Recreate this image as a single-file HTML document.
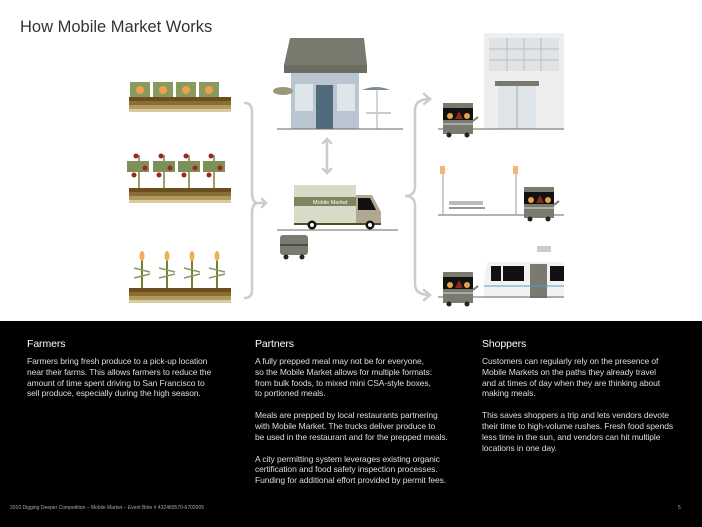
<!DOCTYPE html>
<html><head><meta charset="utf-8"><style>
body{margin:0;width:702px;height:527px;overflow:hidden;background:#fff;font-family:"Liberation Sans",sans-serif;position:relative}
.t{position:absolute;left:20px;top:18px;font-size:16.5px;color:#333}
.blk{position:absolute;left:0;top:321px;width:702px;height:206px;background:#000;color:#fff}
.col{position:absolute;top:17px;font-size:8.5px;line-height:10.8px;color:#ddd;white-space:nowrap;letter-spacing:-0.1px}
.col h3{margin:0 0 6px;font-weight:normal;font-size:10.5px;line-height:12px;color:#fff}
.col p{margin:0 0 11px}
.foot{position:absolute;top:184px;left:10px;font-size:5px;color:#aaa}
.pn{position:absolute;top:184px;left:678px;font-size:5px;color:#aaa}
svg{position:absolute;left:0;top:0}
</style></head><body>
<div class="t">How Mobile Market Works</div>
<svg width="702" height="321" viewBox="0 0 702 321">
<defs>
<g id="soil"><rect x="0" y="0" width="102" height="4" fill="#6b4e1e"/><rect x="0" y="4" width="102" height="4" fill="#8a6d35"/><rect x="0" y="8" width="102" height="4" fill="#b29a5e"/><rect x="0" y="12" width="102" height="3" fill="#d8cba0"/></g>
<g id="cart"><rect x="0" y="0" width="30" height="5" fill="#7a7a6e"/><rect x="0" y="5" width="30" height="12" fill="#111"/><circle cx="7" cy="13" r="3" fill="#e9a24a"/><polygon points="12,16 16,8 20,16" fill="#8a2a1a"/><circle cx="24" cy="13" r="3" fill="#e9a24a"/><rect x="0" y="17" width="30" height="14" fill="#7a7a6e"/><rect x="0" y="20" width="30" height="2" fill="#aaa"/><circle cx="6" cy="32" r="2.5" fill="#222"/><circle cx="24" cy="32" r="2.5" fill="#222"/><line x1="30" y1="18" x2="35" y2="14" stroke="#7a7a6e" stroke-width="2"/></g>
</defs>
<g transform="translate(129,97)"><use href="#soil"/></g>
<g fill="#8a9a5e"><rect x="130" y="82" width="20" height="15"/><rect x="153" y="82" width="20" height="15"/><rect x="176" y="82" width="20" height="15"/><rect x="199" y="82" width="20" height="15"/></g>
<g fill="#f0a04a"><circle cx="140" cy="90" r="4"/><circle cx="163" cy="90" r="4"/><circle cx="186" cy="90" r="4"/><circle cx="209" cy="90" r="4"/></g>
<g transform="translate(129,188)"><use href="#soil"/></g>
<g stroke="#7a7e3a" stroke-width="1.5"><line x1="139" y1="155" x2="139" y2="188"/><line x1="164" y1="155" x2="164" y2="188"/><line x1="189" y1="155" x2="189" y2="188"/><line x1="214" y1="155" x2="214" y2="188"/></g>
<g fill="#7f8f5a"><rect x="127" y="161" width="22" height="11"/><rect x="153" y="161" width="22" height="11"/><rect x="178" y="161" width="22" height="11"/><rect x="203" y="161" width="22" height="11"/></g>
<g fill="#9a2a1a"><circle cx="136" cy="156" r="2.5"/><circle cx="145" cy="168" r="2.5"/><circle cx="161" cy="156" r="2.5"/><circle cx="170" cy="168" r="2.5"/><circle cx="186" cy="156" r="2.5"/><circle cx="195" cy="168" r="2.5"/><circle cx="211" cy="156" r="2.5"/><circle cx="220" cy="168" r="2.5"/><circle cx="134" cy="175" r="2.5"/><circle cx="159" cy="175" r="2.5"/><circle cx="184" cy="175" r="2.5"/><circle cx="209" cy="175" r="2.5"/></g>
<g transform="translate(129,288)"><use href="#soil"/></g>
<g stroke="#7a7e3a" stroke-width="2"><line x1="142" y1="260" x2="142" y2="288"/><line x1="167" y1="260" x2="167" y2="288"/><line x1="192" y1="260" x2="192" y2="288"/><line x1="217" y1="260" x2="217" y2="288"/></g>
<g stroke="#8a9a5e" stroke-width="1.5"><path d="M134 268 L150 272 M134 278 L150 274 M159 268 L175 272 M159 278 L175 274 M184 268 L200 272 M184 278 L200 274 M209 268 L225 272 M209 278 L225 274"/></g>
<g fill="#f0b050"><ellipse cx="142" cy="256" rx="2.5" ry="5"/><ellipse cx="167" cy="256" rx="2.5" ry="5"/><ellipse cx="192" cy="256" rx="2.5" ry="5"/><ellipse cx="217" cy="256" rx="2.5" ry="5"/></g>
<g fill="none" stroke="#ccc" stroke-width="2.5" stroke-linecap="round">
<path d="M245 103 Q252 103 252 112 L252 192 Q252 203 258 203 Q252 203 252 214 L252 290 Q252 298 245 298"/>
<path d="M258 203 L266 203 M262 199 L266 203 L262 207"/>
<path d="M430 99 Q415 99 415 110 L415 186 Q415 196 405 196 Q415 196 415 206 L415 284 Q415 295 430 295"/>
<path d="M424 94 L430 99 L424 104 M424 290 L430 295 L424 300"/>
<path d="M327 139 L327 173 M323 143 L327 139 L331 143 M323 169 L327 173 L331 169"/>
</g>
<polygon points="290,38 364,38 367,65 284,65" fill="#777a6c"/><rect x="284" y="65" width="83" height="8" fill="#6a6d60"/>
<rect x="291" y="73" width="68" height="56" fill="#b9c5d0"/><rect x="316" y="85" width="17" height="44" fill="#4f6a7a"/>
<rect x="295" y="84" width="18" height="27" fill="#dde4ea"/><rect x="337" y="84" width="18" height="27" fill="#dde4ea"/>
<ellipse cx="283" cy="91" rx="10" ry="4" fill="#9a9878"/>
<path d="M362 90 Q376 84 390 90 Z" fill="#7c8892"/><line x1="377" y1="89" x2="377" y2="129" stroke="#aaa"/>
<rect x="366" y="112" width="25" height="2" fill="#ccc"/>
<line x1="277" y1="129" x2="403" y2="129" stroke="#666"/>
<rect x="294" y="185" width="62" height="40" fill="#d8dbc8"/><rect x="294" y="197" width="62" height="9" fill="#7e8660"/>
<text x="313" y="204" font-size="5.5" fill="#fff" font-family="Liberation Sans,sans-serif">Mobile Market</text>
<polygon points="356,195 372,195 381,212 381,224 356,224" fill="#b0a890"/><polygon points="358,198 370,198 376,210 358,210" fill="#111"/>
<rect x="294" y="223" width="87" height="2" fill="#5a4a20"/>
<circle cx="312" cy="225" r="4.5" fill="#111"/><circle cx="312" cy="225" r="2" fill="#fff"/><circle cx="370" cy="225" r="4.5" fill="#111"/><circle cx="370" cy="225" r="2" fill="#fff"/>
<line x1="277" y1="230" x2="398" y2="230" stroke="#666"/>
<rect x="280" y="235" width="28" height="20" rx="3" fill="#7a7a6e"/><line x1="280" y1="245" x2="308" y2="245" stroke="#222"/><circle cx="286" cy="257" r="2.5" fill="#222"/><circle cx="302" cy="257" r="2.5" fill="#222"/>
<rect x="484" y="33" width="80" height="96" fill="#eeeeee"/><rect x="489" y="38" width="70" height="33" fill="#dfe3e6"/>
<g stroke="#bbb"><line x1="507" y1="38" x2="507" y2="71"/><line x1="524" y1="38" x2="524" y2="71"/><line x1="541" y1="38" x2="541" y2="71"/><line x1="489" y1="49" x2="559" y2="49"/><line x1="489" y1="60" x2="559" y2="60"/></g>
<rect x="495" y="81" width="44" height="5" fill="#777a6c"/><rect x="498" y="86" width="38" height="43" fill="#dfe4e8"/><line x1="517" y1="86" x2="517" y2="129" stroke="#aaa"/>
<line x1="438" y1="129" x2="564" y2="129" stroke="#666"/>
<g transform="translate(443,103)"><use href="#cart"/></g>
<g fill="#ccc"><rect x="442" y="174" width="2" height="40"/><rect x="515" y="174" width="2" height="40"/></g>
<g fill="#f0b870"><rect x="440" y="166" width="5" height="8"/><rect x="513" y="166" width="5" height="8"/></g>
<rect x="449" y="201" width="34" height="4" fill="#bbb"/><rect x="449" y="207" width="36" height="2" fill="#999"/>
<line x1="438" y1="215" x2="564" y2="215" stroke="#666"/>
<g transform="translate(524,187)"><use href="#cart"/></g>
<rect x="537" y="246" width="14" height="6" fill="#ccc"/>
<path d="M490 262 L564 262 L564 298 L484 298 Q484 262 490 262Z" fill="#f2f2f2"/>
<rect x="491" y="266" width="10" height="15" fill="#111"/><rect x="503" y="266" width="21" height="15" fill="#111"/><rect x="550" y="266" width="14" height="15" fill="#111"/>
<rect x="530" y="264" width="17" height="34" fill="#7a7a6e"/><line x1="484" y1="286" x2="564" y2="286" stroke="#4aa0d0"/>
<line x1="438" y1="297" x2="564" y2="297" stroke="#666"/>
<g transform="translate(443,272)"><use href="#cart"/></g>
</svg>
<div class="blk">
<div class="col" style="left:27px"><h3>Farmers</h3><p>Farmers bring fresh produce to a pick-up location<br>near their farms. This allows farmers to reduce the<br>amount of time spent driving to San Francisco to<br>sell produce, especially during the high season.</p></div>
<div class="col" style="left:255px"><h3>Partners</h3><p>A fully prepped meal may not be for everyone,<br>so the Mobile Market allows for multiple formats:<br>from bulk foods, to mixed mini CSA-style boxes,<br>to portioned meals.</p><p>Meals are prepped by local restaurants partnering<br>with Mobile Market. The trucks deliver produce to<br>be used in the restaurant and for the prepped meals.</p><p>A city permitting system leverages existing organic<br>certification and food safety inspection processes.<br>Funding for additional effort provided by permit fees.</p></div>
<div class="col" style="left:482px"><h3>Shoppers</h3><p>Customers can regularly rely on the presence of<br>Mobile Markets on the paths they already travel<br>and at times of day when they are thinking about<br>making meals.</p><p>This saves shoppers a trip and lets vendors devote<br>their time to high-volume rushes. Fresh food spends<br>less time in the sun, and vendors can hit multiple<br>locations in one day.</p></div>
<div class="foot">2010 Digging Deeper Competition – Mobile Market – Event Brite # 432483570-6702005</div>
<div class="pn">5</div>
</div>
</body></html>
